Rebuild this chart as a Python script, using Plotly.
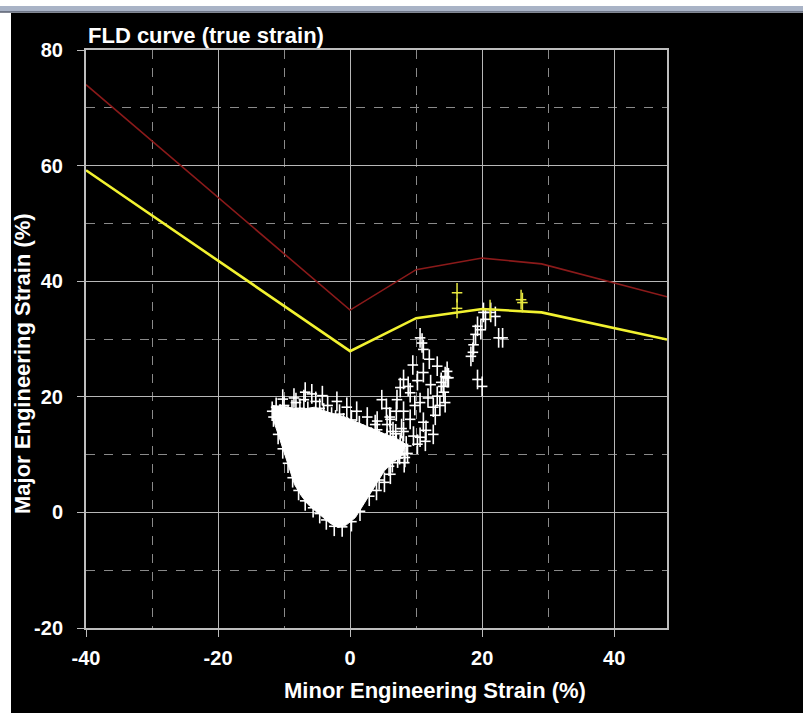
import plotly.graph_objects as go

# ---------------- data ----------------
x_ticks = [-40, -20, 0, 20, 40]
x_tick_labels = ["-40", "-20", "0", "20", "40"]
y_ticks = [-20, 0, 20, 40, 60, 80]
y_tick_labels = ["-20", "0", "20", "40", "60", "80"]

# FLD limit curves (minor strain %, major strain %)
fld_upper_x = [-40, 0, 10, 20, 29, 48]
fld_upper_y = [74.0, 35.0, 42.0, 44.0, 43.0, 37.3]
fld_lower_x = [-40, 0, 10, 20, 29, 48]
fld_lower_y = [59.2, 27.9, 33.6, 35.2, 34.6, 29.9]

# dense region of measured points (outline of the solid white cloud)
cloud_x = [-11.8, -11.4, -10.6, -9.9, -9.1, -8.4, -7.4, -6.4, -5.3, -4.3, -3.0, -1.8, -0.6,
           0.8, 2.3, 3.8, 5.2, 6.6, 7.8, 8.4, 7.0, 5.2, 3.2, 1.2, -1.0, -3.2, -5.4, -7.6, -9.8]
cloud_y = [18.5, 15.2, 12.5, 10.0, 7.4, 4.8, 2.9, 1.4, 0.3, -0.7, -1.9, -2.6, -2.2,
           -0.9, 1.9, 4.8, 7.2, 8.8, 9.8, 11.8, 12.8, 13.6, 14.6, 15.6, 16.6, 17.3, 18.2, 17.8, 18.3]

# individual measured points (white crosses)
pts_x = [-11.8, -11.2, -10.6, -10.0, -9.4, -8.8, -8.2, -7.6, -7.0, -6.4, -5.8, -5.2, -4.6,
         -4.0, -3.4, -2.8, -2.2, -1.6, -1.0, -0.4, 0.2, 0.8, 1.4, 2.0, 2.6, 3.2, 3.8, 4.4,
         5.0, 5.6, 6.2, 6.8, 7.4, 8.0,
         -11.6, -10.9, -10.2, -9.4, -8.7, -7.8, -6.8, -5.6, -4.6, -3.6, -2.4, -1.2, 0.2,
         1.5, 2.9, 4.4, 5.9, 7.2,
         0.5, 1.2, 1.8, 2.5, 3.0, 3.6, 4.2, 4.8, 5.4, 5.8, 6.4, 6.9, 7.6, 8.2, 8.7,
         2.2, 3.4, 4.0, 5.2, 6.1, 1.0, 2.6, 4.1, 5.6, -0.5, -2.0, -4.2, -6.8, -8.5, -10.2,
         6.0, 6.5, 7.0, 7.5, 8.3, 8.5, 5.5, 7.8,
         10.9, 11.1, 10.6, 13.2, 11.1, 14.7, 8.1, 7.6, 12.2, 9.1, 4.8, 7.1, 10.6, 14.4,
         12.6, 8.1, 6.1, 9.1, 11.1, 10.6, 12.6, 11.4, 4.1, 8.1, 6.1, 7.6, 14.7, 13.2,
         9.5, 12.0, 13.8, 11.8, 9.8, 8.8, 10.2, 12.9, 13.6, 11.5, 14.2, 7.0, 9.6, 10.2,
         20.2, 20.5, 19.3, 19.8, 19.0, 22.0, 22.5, 23.1, 18.7, 18.6, 18.3, 19.3, 20.0,
         14.4, 14.9, 14.1, 21.3]
pts_y = [17.5, 18.2, 17.0, 18.5, 16.8, 17.8, 19.0, 18.0, 19.5, 17.5, 20.5, 19.2, 18.0,
         17.2, 18.5, 16.5, 16.0, 17.0, 15.5, 14.8, 16.0, 14.2, 15.0, 13.5, 14.5, 13.0, 15.2,
         12.5, 11.8, 12.8, 11.0, 10.5, 10.2, 11.5,
         16.5, 13.5, 11.0, 8.5, 6.0, 3.8, 2.0, 0.8, -0.2, -1.3, -2.4, -2.5, -1.6,
         0.2, 2.8, 5.6, 8.0, 9.4,
         13.0, 11.5, 9.5, 12.8, 10.2, 8.2, 11.8, 9.6, 12.0, 10.4, 8.6, 13.6, 11.2, 8.6, 10.2,
         6.5, 5.5, 3.8, 5.2, 6.6, 17.5, 16.5, 15.8, 15.2, 18.2, 19.2, 20.2, 20.8, 19.8, 19.6,
         16.5, 14.0, 12.0, 10.0, 9.5, 11.5, 18.0, 14.5,
         29.3, 28.2, 30.2, 25.3, 24.2, 23.3, 23.0, 21.6, 22.1, 20.7, 19.5, 19.5, 19.0, 19.0,
         18.2, 17.5, 16.1, 16.1, 15.6, 13.0, 13.5, 12.3, 14.3, 14.0, 13.1, 11.8, 24.4, 20.1,
         25.5, 26.5, 22.5, 19.8, 18.5, 21.8, 22.8, 16.8, 18.5, 14.2, 20.8, 17.5, 13.2, 11.8,
         34.6, 33.4, 32.2, 31.6, 30.8, 33.9, 30.2, 30.2, 29.0, 27.7, 27.0, 23.0, 21.8,
         23.5, 23.3, 21.8, 34.6]

# points at/above the limit curve (yellow crosses)
warn_x = [16.2, 16.2, 21.2, 25.9, 26.1]
warn_y = [38.0, 35.3, 35.1, 36.8, 36.3]

# ---------------- figure ----------------
fig = go.Figure()

fig.add_trace(go.Scatter(
    x=cloud_x + [cloud_x[0]], y=cloud_y + [cloud_y[0]], mode="lines",
    fill="toself", fillcolor="white", line=dict(color="white", width=1),
    hoverinfo="skip", showlegend=False))

cross_x = dict(type="constant", value=0.8, thickness=1.6, width=0, color="white")
cross_y = dict(type="constant", value=1.7, thickness=1.6, width=0, color="white")
fig.add_trace(go.Scatter(
    x=pts_x, y=pts_y, mode="markers",
    marker=dict(size=2, color="white"),
    error_x=cross_x, error_y=cross_y, showlegend=False))

fig.add_trace(go.Scatter(
    x=fld_upper_x, y=fld_upper_y, mode="lines",
    line=dict(color="#8B1A1A", width=1.6), showlegend=False))
fig.add_trace(go.Scatter(
    x=fld_lower_x, y=fld_lower_y, mode="lines",
    line=dict(color="#F2F230", width=2.6), showlegend=False))

fig.add_trace(go.Scatter(
    x=warn_x, y=warn_y, mode="markers",
    marker=dict(size=2, color="#E8E840"),
    error_x=dict(type="constant", value=0.8, thickness=1.5, width=0, color="#E8E840"),
    error_y=dict(type="constant", value=1.7, thickness=1.5, width=0, color="#E8E840"),
    showlegend=False))

FONT = "Liberation Sans, Arial, sans-serif"
axis_common = dict(
    showgrid=True, gridcolor="#B8B8B8", gridwidth=1,
    zeroline=False,
    showline=True, mirror=True, linecolor="#BDBDBD", linewidth=2,
    ticks="outside", ticklen=7, tickcolor="#BDBDBD", tickwidth=1,
    tickfont=dict(family=FONT, size=20, color="white", weight="bold"),
    minor=dict(dtick=10, showgrid=True, gridcolor="#8A8A8A", griddash="dash", gridwidth=1),
)

fig.update_xaxes(range=[-40, 48], tickvals=x_ticks, ticktext=x_tick_labels,
                 ticklabelstandoff=4, **axis_common)
fig.update_yaxes(range=[-20, 80], tickvals=y_ticks, ticktext=y_tick_labels,
                 ticklabelstandoff=10, **axis_common)

# paper: black panel with light window-border strips on top/left
shapes = [
    dict(type="rect", xref="paper", yref="paper",
         x0=(11 - 86) / 581, x1=(803 - 86) / 581,
         y0=(628 - 713) / 578, y1=(628 - 13) / 578,
         fillcolor="black", line=dict(width=0), layer="below"),
    dict(type="rect", xref="paper", yref="paper",
         x0=-86 / 581, x1=(803 - 86) / 581,
         y0=(628 - 12) / 578, y1=(628 - 6) / 578,
         fillcolor="#A9B3C6", line=dict(width=0), layer="below"),
    dict(type="line", xref="paper", yref="paper",
         x0=-86 / 581, x1=(803 - 86) / 581,
         y0=(628 - 12) / 578, y1=(628 - 12) / 578,
         line=dict(color="#5A6070", width=1.5), layer="below"),
]

annotations = [
    dict(text="FLD curve (true strain)", xref="paper", yref="paper", x=0, y=1,
         xanchor="left", yanchor="bottom", yshift=0, showarrow=False,
         font=dict(family=FONT, size=22, color="white", weight="bold")),
    dict(text="Minor Engineering Strain (%)", xref="paper", yref="paper",
         x=(435 - 86) / 581, y=(628 - 690) / 578, xanchor="center", yanchor="middle",
         showarrow=False, font=dict(family=FONT, size=22, color="white", weight="bold")),
    dict(text="Major Engineering Strain (%)", xref="paper", yref="paper",
         x=(22 - 86) / 581, y=(628 - 364) / 578, xanchor="center", yanchor="middle",
         textangle=-90, showarrow=False,
         font=dict(family=FONT, size=22, color="white", weight="bold")),
]

fig.update_layout(
    width=803, height=713,
    margin=dict(l=86, r=136, t=50, b=85),
    paper_bgcolor="white", plot_bgcolor="black",
    shapes=shapes, annotations=annotations,
    showlegend=False,
)

fig.write_html("out.html",
               config={"displayModeBar": False},
               post_script="document.body.style.margin='0px';"
                           "document.body.style.overflow='hidden';")
